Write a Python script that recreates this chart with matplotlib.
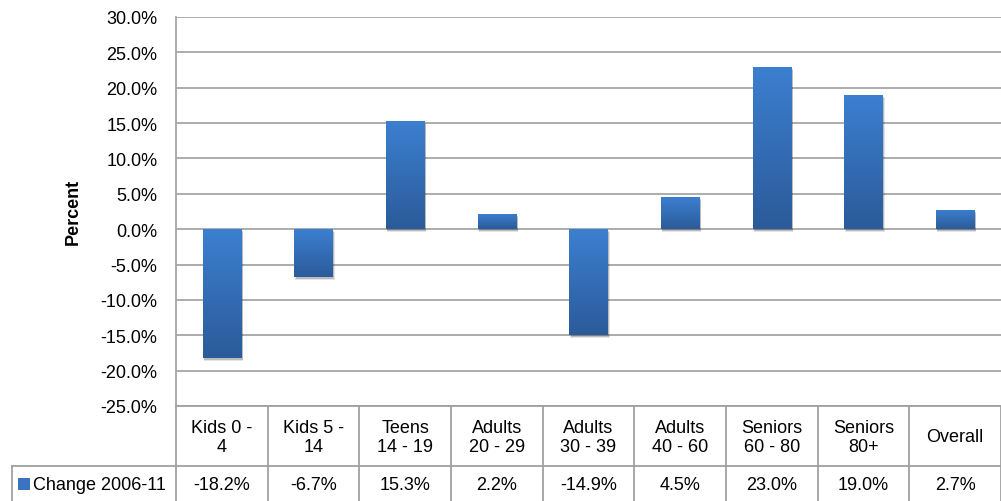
import numpy as np
import matplotlib
matplotlib.use("Agg")
import matplotlib.pyplot as plt
from matplotlib.lines import Line2D
from matplotlib.patches import Rectangle
from matplotlib.transforms import offset_copy

# data
groups = ["Kids 0 -\n4", "Kids 5 -\n14", "Teens\n14 - 19", "Adults\n20 - 29", "Adults\n30 - 39",
          "Adults\n40 - 60", "Seniors\n60 - 80", "Seniors\n80+", "Overall"]
change = [-18.2, -6.7, 15.3, 2.2, -14.9, 4.5, 23.0, 19.0, 2.7]
series_name = "Change 2006-11"
yticks = np.arange(-25, 31, 5)

plt.rcParams['font.family'] = ['Liberation Sans', 'DejaVu Sans']
W, H = 1001, 502
fig = plt.figure(figsize=(W / 100, H / 100), dpi=100)
fs = 13

# plot area in pixel coordinates
left, right, top, bottom = 176, 1001, 18, 407
ax = fig.add_axes([left / W, 1 - bottom / H, (right - left) / W, (bottom - top) / H])

grid_col = "#a6a6a6"
light = np.array([60, 127, 208]) / 255
dark = np.array([43, 91, 154]) / 255

x = np.arange(len(change))
width = 0.42

# soft drop shadow under each bar
for k, a in enumerate([0.10, 0.18]):
    ax.bar(x, change, width=width + 0.01 * (1 - k), color="black", alpha=a,
           transform=offset_copy(ax.transData, fig=fig, x=1.5, y=-3 + k, units='dots'),
           zorder=2, linewidth=0)

bars = ax.bar(x, change, width=width, color="none", linewidth=0, zorder=3)
grad = np.linspace(0, 1, 64)[:, None]
cols = dark[None, None, :] * (1 - grad[:, :, None]) + light[None, None, :] * grad[:, :, None]
for b in bars:
    x0, y0 = b.get_x(), b.get_y()
    w, h = b.get_width(), b.get_height()
    lo, hi = min(y0, y0 + h), max(y0, y0 + h)
    im = ax.imshow(cols, extent=[x0, x0 + w, lo, hi], origin='lower',
                   aspect='auto', zorder=3, interpolation='bilinear')
    im.set_clip_path(b)

ax.set_xlim(-0.5, len(change) - 0.5)
ax.set_ylim(-25, 30)
ax.set_yticks(yticks)
ax.set_yticklabels([f"{t:.1f}%" for t in yticks], fontsize=fs)
ax.tick_params(axis='y', length=0, pad=13.5)
ax.set_xticks([])
ax.grid(axis='y', color=grid_col, linewidth=1.3, zorder=0)
for s in ["top", "right", "bottom"]:
    ax.spines[s].set_visible(False)
ax.spines["left"].set_color(grid_col)
ax.spines["left"].set_linewidth(1.3)

fig.text(73 / W, 1 - 212 / H, "Percent", rotation=90, ha='center', va='center',
         fontsize=fs, fontweight='bold')

# data table below the axis
def px(xp, yp):
    return xp / W, 1 - yp / H

col_w = (right - left) / len(change)
row1, row2 = 467, 503
tcol = "#a0a0a0"
fig.add_artist(Line2D(*zip(px(left, bottom), px(right, bottom)), color=tcol, lw=1.3))
fig.add_artist(Line2D(*zip(px(12, row1), px(right, row1)), color=tcol, lw=1.3))
fig.add_artist(Line2D(*zip(px(12, row1), px(12, row2)), color=tcol, lw=1.3))
for i in range(len(change) + 1):
    xc = left + i * col_w
    fig.add_artist(Line2D(*zip(px(xc, bottom), px(xc, row2)), color=tcol, lw=1.3))

for i, (g, v) in enumerate(zip(groups, change)):
    xc = left + (i + 0.5) * col_w
    fig.text(*px(xc, (bottom + row1) / 2 + 1), g, ha='center', va='center',
             fontsize=fs, linespacing=1.2)
    fig.text(*px(xc, (row1 + row2) / 2 + 1), f"{v:.1f}%", ha='center', va='center',
             fontsize=fs)

fig.add_artist(Rectangle(px(18, 491), 12 / W, 12 / H, facecolor="#3a73c0",
                         edgecolor="none"))
fig.text(*px(33, (row1 + row2) / 2 + 1), series_name, ha='left', va='center', fontsize=fs)

fig.savefig("out.png", dpi=100)
